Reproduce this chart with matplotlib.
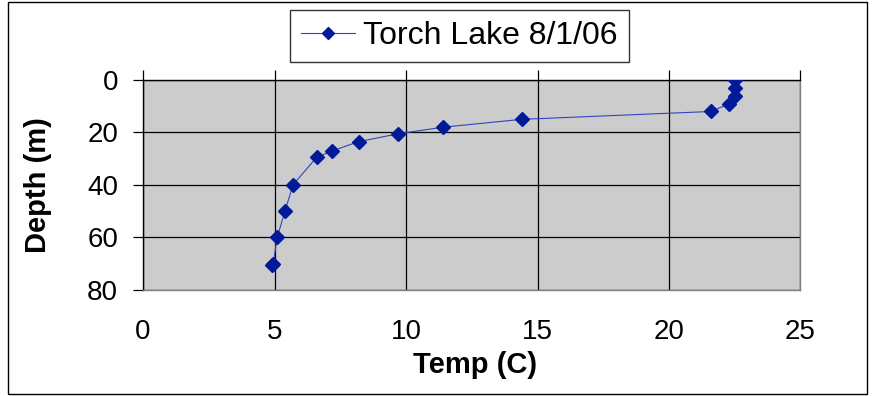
import matplotlib.pyplot as plt
from matplotlib.patches import Rectangle

plt.rcParams['font.family'] = ['Liberation Sans', 'DejaVu Sans']

# Torch Lake temperature profile, 8/1/06
temp = [22.5, 22.5, 22.5, 22.3, 21.6, 14.4, 11.4, 9.7, 8.2, 7.2, 6.6,
        5.7, 5.4, 5.1, 4.95, 4.9]
depth = [0, 3, 6, 9, 12, 15, 18, 20.5, 23.5, 27, 29.5,
         40, 50, 60, 70, 70.5]

x_ticks = [0, 5, 10, 15, 20, 25]
y_ticks = [0, 20, 40, 60, 80]

fig = plt.figure(figsize=(8.72, 3.96), dpi=100)
ax = fig.add_axes([0.164, 0.268, 0.754, 0.530])
ax.set_facecolor('#CCCCCC')

line, = ax.plot(temp, depth, color='#3344BB', lw=0.8, marker='D',
                markersize=7.5, markerfacecolor='#001A99',
                markeredgecolor='#001A99', label='Torch Lake 8/1/06',
                zorder=3)

ax.set_xlim(0, 25)
ax.set_ylim(80, 0)
ax.set_xticks(x_ticks)
ax.set_yticks(y_ticks)
ax.grid(True, color='black', lw=0.9)
ax.set_axisbelow(True)

ax.tick_params(axis='x', top=True, bottom=False, labeltop=False,
               labelbottom=True, direction='out', length=7, pad=14,
               labelsize=20, width=0.9)
ax.tick_params(axis='y', direction='out', length=7, labelsize=20,
               width=0.9, pad=11)

ax.spines['top'].set_color('black')
ax.spines['left'].set_color('black')
ax.spines['right'].set_color('#808080')
ax.spines['bottom'].set_color('#808080')
for s in ax.spines.values():
    s.set_linewidth(1.0)

ax.set_xlabel('Temp (C)', fontsize=21, fontweight='bold', va='center')
ax.xaxis.set_label_coords(0.505, -0.357)
ax.set_ylabel('Depth (m)', fontsize=21, fontweight='bold', va='center')
ax.yaxis.set_label_coords(-0.160, 0.5)

leg = fig.legend(handles=[line], loc='center',
                 bbox_to_anchor=(0.527, 0.909), fontsize=23,
                 frameon=True, fancybox=False, edgecolor='black',
                 handlelength=1.7, handletextpad=0.25, borderpad=0.35,
                 markerscale=0.75)
leg.get_frame().set_linewidth(1.0)

fig.patches.append(Rectangle((0.009, 0.006), 0.985, 0.988,
                             transform=fig.transFigure, fill=False,
                             edgecolor='black', lw=1.0))

fig.savefig('out.png', dpi=100)
